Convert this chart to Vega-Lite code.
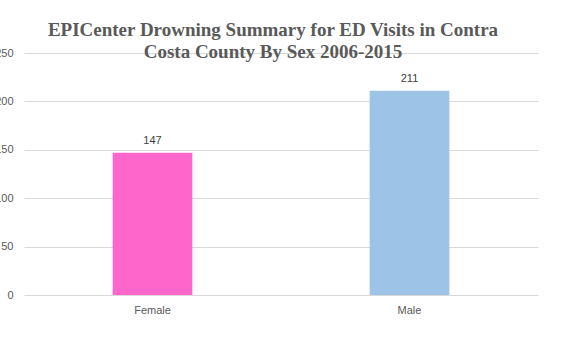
{
  "$schema": "https://vega.github.io/schema/vega-lite/v6.json",
  "autosize": {"type": "none"},
  "width": 514,
  "height": 242,
  "padding": {"left": 24, "top": 53, "right": 42, "bottom": 64},
  "background": "white",
  "title": {
    "text": ["EPICenter Drowning Summary for ED Visits in Contra", "Costa County By Sex 2006-2015"],
    "font": "Liberation Serif",
    "fontSize": 19,
    "fontWeight": "bold",
    "color": "#595959",
    "lineHeight": 22,
    "anchor": "middle",
    "dx": -8,
    "offset": -15
  },
  "data": {
    "values": [
      {"sex": "Female", "visits": 147},
      {"sex": "Male", "visits": 211}
    ]
  },
  "encoding": {
    "x": {
      "field": "sex",
      "type": "nominal",
      "sort": null,
      "scale": {"paddingInner": 0, "paddingOuter": 0},
      "axis": {
        "title": null,
        "labelAngle": 0,
        "domain": false,
        "ticks": false,
        "labelFont": "Liberation Sans",
        "labelFontSize": 11,
        "labelColor": "#595959",
        "labelPadding": 9
      }
    },
    "y": {
      "field": "visits",
      "type": "quantitative",
      "scale": {"domain": [0, 250]},
      "axis": {
        "title": null,
        "values": [0, 50, 100, 150, 200, 250],
        "domain": false,
        "ticks": false,
        "gridColor": "#d9d9d9",
        "labelFont": "Liberation Sans",
        "labelFontSize": 11,
        "labelColor": "#595959",
        "labelPadding": 11
      }
    }
  },
  "layer": [
    {
      "mark": {"type": "bar", "width": {"band": 0.31}},
      "encoding": {
        "color": {
          "field": "sex",
          "type": "nominal",
          "scale": {"domain": ["Female", "Male"], "range": ["#FF66CC", "#9DC3E6"]},
          "legend": null
        }
      }
    },
    {
      "mark": {"type": "text", "baseline": "bottom", "dy": -7, "font": "Liberation Sans", "fontSize": 11, "color": "#404040"},
      "encoding": {
        "text": {"field": "visits", "type": "quantitative"}
      }
    }
  ],
  "config": {"view": {"stroke": null}}
}
